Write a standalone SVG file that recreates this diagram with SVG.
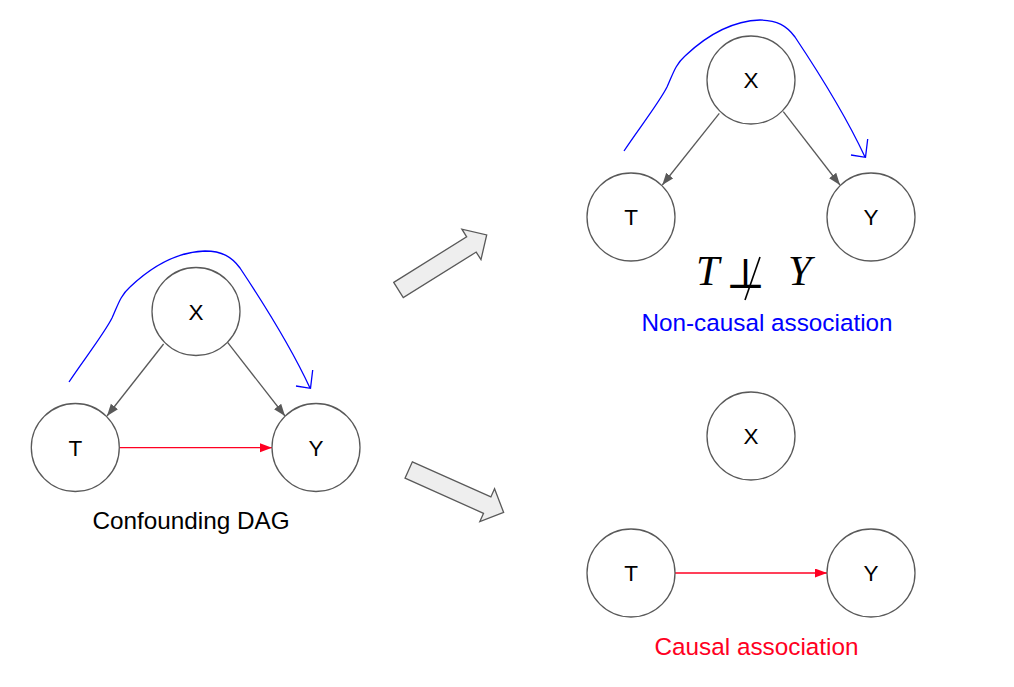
<svg xmlns="http://www.w3.org/2000/svg" width="1014" height="687" viewBox="0 0 1014 687">
<style>
.node{fill:#fff;stroke:#595959;stroke-width:1.3}
.lbl{font-family:"Liberation Sans",Arial,sans-serif;font-size:22.5px;fill:#000;text-anchor:middle}
.cap{font-family:"Liberation Sans",Arial,sans-serif;font-size:24.3px;text-anchor:middle}
.edge{stroke:#595959;stroke-width:1.3;fill:none}
.causal{stroke:#ff0022;stroke-width:1.3;fill:none}
.path{stroke:#0000ff;stroke-width:1.3;fill:none}
.big{fill:#eeeeee;stroke:#595959;stroke-width:1.3}
.math{font-family:"Liberation Serif","Times New Roman",serif;font-style:italic;font-size:42px;fill:#000}
</style>
<defs>
<marker id="ag" markerUnits="userSpaceOnUse" markerWidth="13" markerHeight="10" refX="12" refY="4.5" orient="auto">
<path d="M0,0 L12,4.5 L0,9 z" fill="#595959"/>
</marker>
<marker id="ar" markerUnits="userSpaceOnUse" markerWidth="13" markerHeight="10" refX="12" refY="4.5" orient="auto">
<path d="M0,0 L12,4.5 L0,9 z" fill="#ff0022"/>
</marker>
<path id="bigArrow" d="M0,-9 L86,-9 L86,-18 L104,0 L86,18 L86,9 L0,9 z"/>
<path id="bluePath" d="M69,382 C82,362 104,334 112,318 C118,305 120,296 130,287 C150,268 175,252 205,251 C222,251 232,257 240,268 C260,298 290,345 310,388 M296,386 L310.5,388.3 L312.7,370"/>
</defs>

<g id="connectors">
<line class="edge" x1="163.6" y1="344" x2="107" y2="416" marker-end="url(#ag)"/>
<line class="edge" x1="227" y1="341.7" x2="285" y2="416" marker-end="url(#ag)"/>
<line class="causal" x1="119" y1="447.7" x2="272" y2="447.7" marker-end="url(#ar)"/>
<use href="#bluePath" class="path"/>
<line class="edge" x1="719.3" y1="113.3" x2="662.3" y2="185" marker-end="url(#ag)"/>
<line class="edge" x1="783.3" y1="111.7" x2="840" y2="185" marker-end="url(#ag)"/>
<use href="#bluePath" class="path" transform="translate(555,-231)"/>
<line class="causal" x1="675" y1="573" x2="827" y2="573" marker-end="url(#ar)"/>
<use href="#bigArrow" class="big" transform="translate(398.5,290) rotate(-32)"/>
<use href="#bigArrow" class="big" transform="translate(408.7,470) rotate(24.1)"/>
</g>

<g id="L-X"><circle class="node" cx="196" cy="311.5" r="44"/><text class="lbl" x="196" y="319.5">X</text></g>
<g id="L-T"><circle class="node" cx="75.3" cy="447.5" r="44"/><text class="lbl" x="75.3" y="455.5">T</text></g>
<g id="L-Y"><circle class="node" cx="316" cy="447.5" r="44"/><text class="lbl" x="316" y="455.5">Y</text></g>
<g id="L-caption"><text class="cap" x="191" y="529" fill="#000">Confounding DAG</text></g>

<g id="TR-X"><circle class="node" cx="751" cy="80" r="44"/><text class="lbl" x="751" y="88">X</text></g>
<g id="TR-T"><circle class="node" cx="631" cy="217" r="44"/><text class="lbl" x="631" y="225">T</text></g>
<g id="TR-Y"><circle class="node" cx="871" cy="217" r="44"/><text class="lbl" x="871" y="225">Y</text></g>
<g id="TR-formula">
<text class="math" x="696" y="285">T</text>
<text x="745.5" y="288" font-family="'DejaVu Serif',serif" font-size="42" text-anchor="middle" fill="#000">⊥</text>
<line x1="760" y1="257" x2="745" y2="300" stroke="#000" stroke-width="1.6"/>
<text class="math" x="788" y="285">Y</text>
</g>
<g id="TR-caption"><text class="cap" x="767" y="331" fill="#0000ff">Non-causal association</text></g>

<g id="BR-X"><circle class="node" cx="751" cy="436" r="44"/><text class="lbl" x="751" y="444">X</text></g>
<g id="BR-T"><circle class="node" cx="631" cy="573" r="44"/><text class="lbl" x="631" y="581">T</text></g>
<g id="BR-Y"><circle class="node" cx="871" cy="573" r="44"/><text class="lbl" x="871" y="581">Y</text></g>
<g id="BR-caption"><text class="cap" x="756.5" y="655" fill="#ff0022">Causal association</text></g>
</svg>
